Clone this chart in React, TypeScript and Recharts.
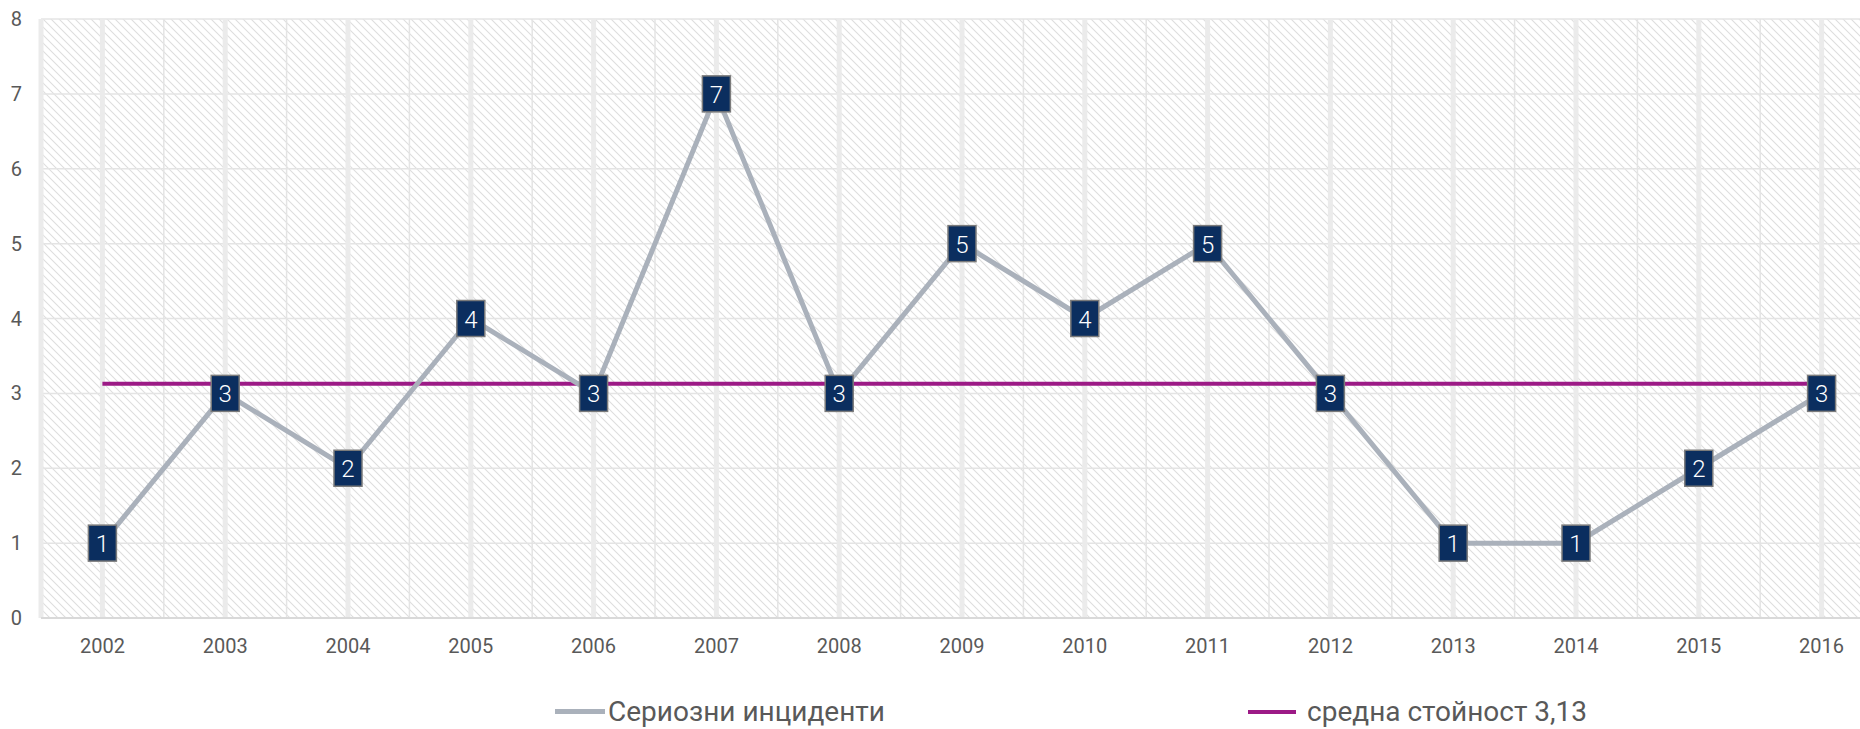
import React from "react";
import { LineChart, Line, XAxis, YAxis, CartesianGrid, LabelList } from "recharts";

const YEARS = ["2002", "2003", "2004", "2005", "2006", "2007", "2008", "2009", "2010", "2011", "2012", "2013", "2014", "2015", "2016"];
const INCIDENTS = [1, 3, 2, 4, 3, 7, 3, 5, 4, 5, 3, 1, 1, 2, 3];
const AVERAGE = 3.13;
const Y_TICKS = [0, 1, 2, 3, 4, 5, 6, 7, 8];
const BOUNDARY_TICKS = [-0.5, 0.5, 1.5, 2.5, 3.5, 4.5, 5.5, 6.5, 7.5, 8.5, 9.5, 10.5, 11.5, 12.5, 13.5, 14.5];
const SERIES_NAME = "Сериозни инциденти";
const AVG_NAME = "средна стойност 3,13";

const rows = YEARS.map((year, i) => ({ year, idx: i, incidents: INCIDENTS[i], avg: AVERAGE }));

const FONT = "Roboto, 'Open Sans', sans-serif";

const BoxLabel = (props: any) => {
  const { x, y, value } = props;
  if (x == null || y == null) return null;
  return (
    <g>
      <rect x={x - 14} y={y - 18} width={28} height={36} fill="#0b2e5f" stroke="#7b7b7b" strokeWidth={1.5} />
      <text x={x} y={y + 1} textAnchor="middle" dominantBaseline="central" fill="#ffffff" fontSize={24} fontFamily={FONT} fontWeight={300}>
        {value}
      </text>
    </g>
  );
};

export default function App() {
  return (
    <div style={{ position: "absolute", left: 0, top: 0, width: 1860, height: 729, overflow: "hidden", background: "#ffffff" }}>
      <LineChart width={1900} height={729} data={rows} margin={{ top: 19, right: 17, left: 0, bottom: 0 }}>
        <defs>
          <pattern id="hatch" patternUnits="userSpaceOnUse" width={8} height={8}>
            <path d="M0,0 L8,8 M-1,7 L1,9 M7,-1 L9,1" stroke="#dedede" strokeWidth={1.1} />
          </pattern>
        </defs>
        <XAxis xAxisId="edges" type="number" dataKey="idx" domain={[-0.5, 14.5]} ticks={BOUNDARY_TICKS} hide />
        <XAxis
          dataKey="year"
          scale="band"
          height={111}
          tickLine={false}
          tickSize={0}
          tickMargin={21}
          axisLine={{ stroke: "#d9d9d9", strokeWidth: 2 }}
          tick={{ fill: "#595959", fontSize: 20, fontFamily: FONT }}
          interval={0}
        />
        <YAxis
          width={41}
          domain={[0, 8]}
          ticks={Y_TICKS}
          axisLine={false}
          tickLine={false}
          tickSize={0}
          tickMargin={19}
          tick={{ fill: "#595959", fontSize: 20, fontFamily: FONT }}
        />
        <CartesianGrid xAxisId="edges" fill="url(#hatch)" stroke="#e4e4e4" strokeWidth={1.5} />
        <CartesianGrid horizontal={false} stroke="#ebebeb" strokeWidth={5} fill="none" />
        <Line dataKey="avg" stroke="#9c1a86" strokeWidth={4} dot={false} isAnimationActive={false} />
        <Line dataKey="incidents" stroke="#aab1bb" strokeWidth={5} dot={false} isAnimationActive={false}>
          <LabelList dataKey="incidents" content={BoxLabel} />
        </Line>
      </LineChart>
      <div style={{ position: "absolute", left: 555, top: 695, display: "flex", alignItems: "center", fontFamily: FONT, fontSize: 28, color: "#595959", whiteSpace: "nowrap" }}>
        <div style={{ width: 50, height: 5, background: "#aab1bb", marginRight: 3 }} />
        <span>{SERIES_NAME}</span>
      </div>
      <div style={{ position: "absolute", left: 1248, top: 695, display: "flex", alignItems: "center", fontFamily: FONT, fontSize: 28, color: "#595959", whiteSpace: "nowrap" }}>
        <div style={{ width: 48, height: 4, background: "#9c1a86", marginRight: 11 }} />
        <span>{AVG_NAME}</span>
      </div>
    </div>
  );
}
